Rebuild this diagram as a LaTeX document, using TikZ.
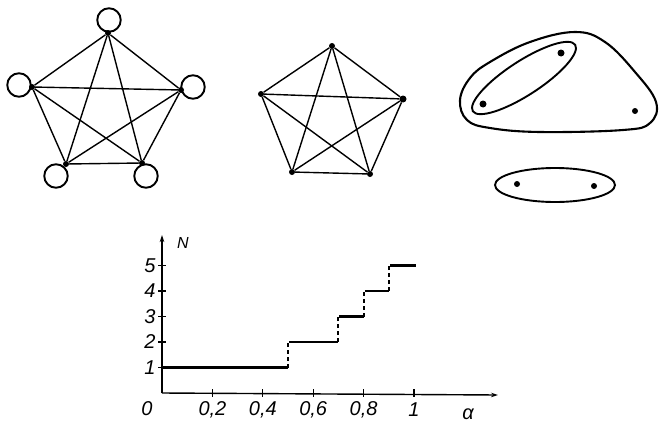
\documentclass[tikz,border=0pt]{standalone}
\usepackage{fontspec}
\setmainfont{Liberation Sans}
\usetikzlibrary{arrows.meta}
\begin{document}
\begin{tikzpicture}[x=1pt,y=-1pt,
  edge/.style={line width=1.4pt},
  vdot/.style={circle,fill,inner sep=0pt,minimum size=6pt},
  loopc/.style={circle,draw,line width=1.9pt,inner sep=0pt,minimum size=23.5pt},
  blob/.style={line width=2.1pt},
  axisline/.style={line width=1.4pt},
  stepline/.style={line width=2.4pt},
  jumpline/.style={line width=2pt,dash pattern=on 4pt off 3pt},
  tick/.style={line width=1.3pt},
  lbl/.style={font=\fontsize{20}{24}\selectfont\itshape,inner sep=0pt}]
\useasboundingbox (0,0) rectangle (661,423);

% ---- left pentagon with loops
\node[vdot] (a1) at (108,33) {};
\node[vdot] (a2) at (181,90) {};
\node[vdot] (a3) at (142,163) {};
\node[vdot] (a4) at (66,164) {};
\node[vdot] (a5) at (32,87) {};
\foreach \i/\j in {1/2,1/3,1/4,1/5,2/3,2/4,2/5,3/4,3/5,4/5}
  \draw[edge] (a\i) -- (a\j);
\node[loopc] (l1) at (109,20) {};
\node[loopc] (l2) at (193,87) {};
\node[loopc] (l3) at (146,176) {};
\node[loopc] (l4) at (56,176) {};
\node[loopc] (l5) at (19,85) {};

% ---- middle pentagon
\node[vdot] (b1) at (332,46) {};
\node[vdot,minimum size=7pt] (b2) at (403,99) {};
\node[vdot] (b3) at (370,174) {};
\node[vdot] (b4) at (292,172) {};
\node[vdot] (b5) at (261,94) {};
\foreach \i/\j in {1/2,1/3,1/4,1/5,2/3,2/4,2/5,3/4,3/5,4/5}
  \draw[edge] (b\i) -- (b\j);

% ---- right: hypergraph-like blobs
\draw[blob] plot[smooth cycle,tension=0.65] coordinates
  {(460,100) (470,78) (490,62) (530,42) (575,32) (605,42) (635,72)
   (656,102) (650,123) (623,130) (540,132) (490,128) (467,120)};
\coordinate (ec) at (524,78);
\draw[blob,line width=1.9pt,rotate around={33:(ec)}] (ec) ellipse [x radius=61pt,y radius=17pt];
\draw[blob,line width=1.9pt] (555,185) ellipse [x radius=60pt,y radius=17pt];
\node[vdot,minimum size=7pt] (c1) at (483,104) {};
\node[vdot,minimum size=7pt] (c2) at (561,53) {};
\node[vdot] (c3) at (635,111) {};
\node[vdot] (c4) at (517,184) {};
\node[vdot] (c5) at (594,186) {};

% ---- step plot
\coordinate (O) at (162,393);
\coordinate (ytop) at (162,235);
\coordinate (xend) at (498,395);
\draw[axisline,-{Stealth[length=7pt,width=4.5pt]}] (O) -- (ytop);
\draw[axisline,-{Stealth[length=7pt,width=4.5pt]}] (O) -- (xend);
\node[lbl,font=\fontsize{16}{18}\selectfont\itshape] (N) at (183,243) {N};
\node[lbl] (alpha) at (468,414) {α};
\foreach \n in {1,...,5}{
  \draw[tick] (158,{393-25.5*\n}) -- (166,{393-25.5*\n});
  \node[lbl] at (150,{393-25.5*\n}) {\n};
}
\foreach \a/\t in {0.2/{0,2},0.4/{0,4},0.6/{0,6},0.8/{0,8},1/1}{
  \draw[tick] ({162+252*\a},389) -- ({162+252*\a},397);
  \node[lbl] at ({162+252*\a},410) {\t};
}
\node[lbl] (zero) at (147,409) {0};
% steps
\draw[stepline] (162,367.5) -- (288,367.5);
\draw[jumpline] (288,367.5) -- (288,342);
\draw[stepline] (289,342) -- (338,342);
\draw[jumpline] (338,342) -- (338,316.5);
\draw[stepline] (339,316.5) -- (364,316.5);
\draw[jumpline] (364,316.5) -- (364,291);
\draw[stepline] (365,291) -- (389,291);
\draw[jumpline] (389,291) -- (389,265.5);
\draw[stepline] (390,265.5) -- (416,265.5);
\end{tikzpicture}
\end{document}
